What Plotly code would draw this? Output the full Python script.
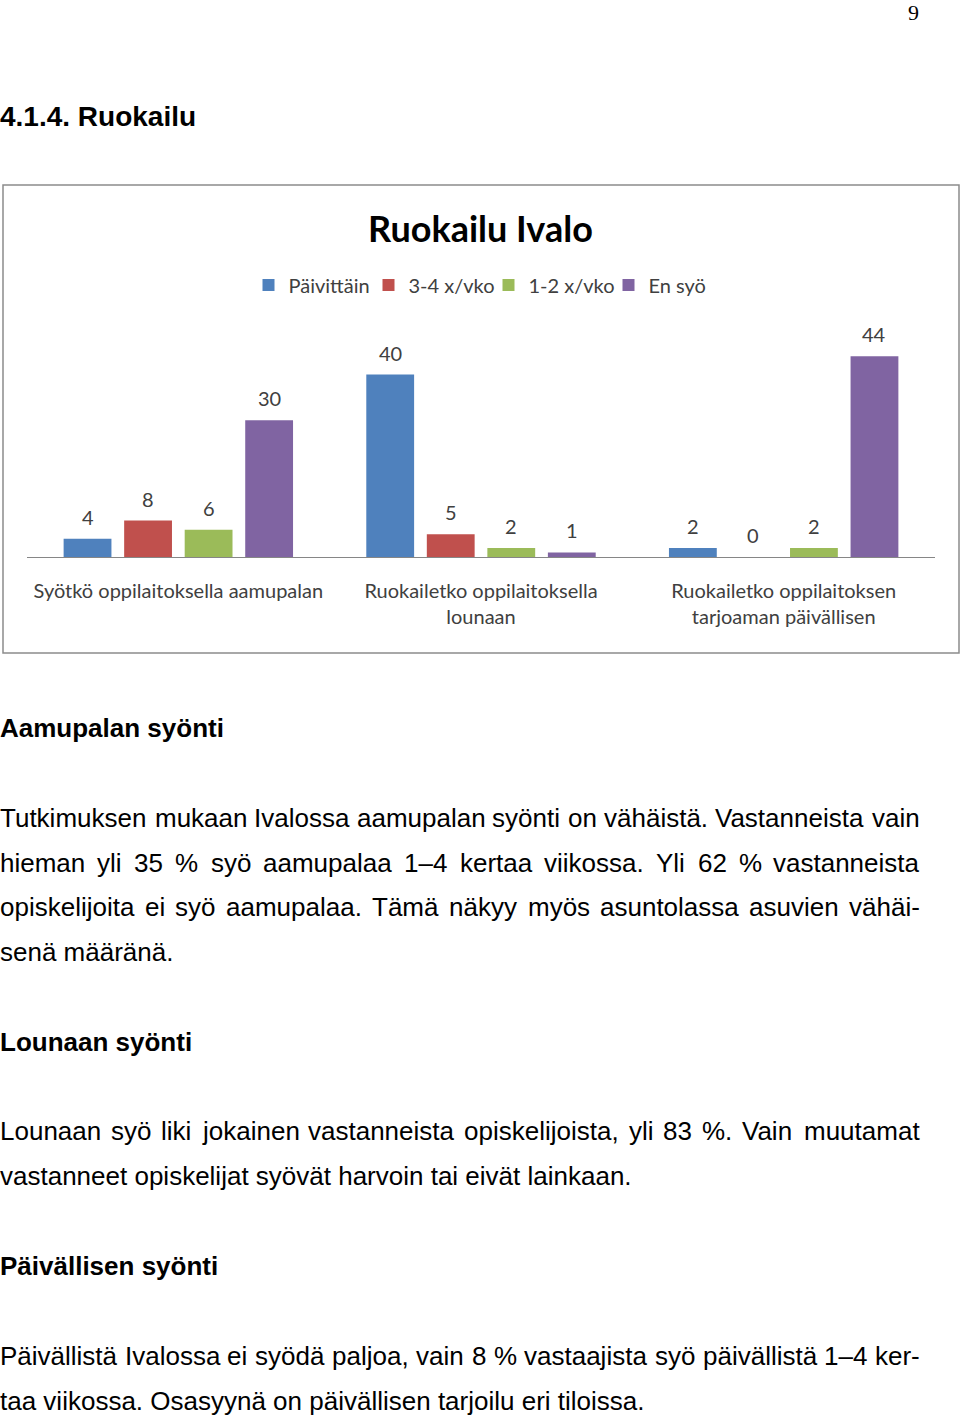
import plotly.graph_objects as go

# chart data
categories = [
    "Syötkö oppilaitoksella aamupalan",
    "Ruokailetko oppilaitoksella<br>lounaan",
    "Ruokailetko oppilaitoksen<br>tarjoaman päivällisen",
]
series_names = ["Päivittäin", "3-4 x/vko", "1-2 x/vko", "En syö"]
paivittain = [4, 40, 2]
kolme_nelja = [8, 5, 0]
yksi_kaksi = [6, 2, 2]
en_syo = [30, 1, 44]
colors = ["#4F81BD", "#C0504D", "#9BBB59", "#8064A2"]

chart_title = "Ruokailu Ivalo"

# surrounding page text
page_number = "9"
section_heading = "4.1.4. Ruokailu"
sections = [
    ("Aamupalan syönti", 728, [
        "Tutkimuksen mukaan Ivalossa aamupalan syönti on vähäistä. Vastanneista vain",
        "hieman yli 35 % syö aamupalaa 1–4 kertaa viikossa. Yli 62 % vastanneista",
        "opiskelijoita ei syö aamupalaa. Tämä näkyy myös asuntolassa asuvien vähäi-",
        "senä määränä.",
    ], 818),
    ("Lounaan syönti", 1042, [
        "Lounaan syö liki jokainen vastanneista opiskelijoista, yli 83 %. Vain muutamat",
        "vastanneet opiskelijat syövät harvoin tai eivät lainkaan.",
    ], 1131),
    ("Päivällisen syönti", 1266, [
        "Päivällistä Ivalossa ei syödä paljoa, vain 8 % vastaajista syö päivällistä 1–4 ker-",
        "taa viikossa. Osasyynä on päivällisen tarjoilu eri tiloissa.",
    ], 1356),
]

W, H = 960, 1417
def py(px):
    return 1 - px / H

chart_font = "Lato, Open Sans, sans-serif"
body_font = "Liberation Sans, Arial, sans-serif"
body_size = 26
text_right = 920

# rough Arial / Liberation Sans advance widths (per 1000 em), for justifying lines
_w = {" ": 278, "%": 889, ",": 278, "-": 333, ".": 278, "–": 556,
      "I": 278, "L": 556, "O": 778, "P": 667, "T": 611, "V": 667, "Y": 667,
      "c": 500, "f": 278, "i": 222, "j": 222, "k": 500, "l": 222, "m": 833,
      "r": 333, "s": 500, "t": 278, "v": 500, "w": 722, "x": 500, "y": 500, "z": 500}
def word_width(s, size):
    return sum(_w.get(ch, 556) for ch in s) * size / 1000

all_series = [paivittain, kolme_nelja, yksi_kaksi, en_syo]

fig = go.Figure()
for name, vals, col in zip(series_names, all_series, colors):
    fig.add_trace(go.Bar(
        x=categories, y=vals, name=name,
        marker=dict(color=col, line=dict(width=0)),
    ))

x0_px, x1_px = 27, 935
bargap, groupgap = 0.2, 0.21
slot = (x1_px - x0_px) / len(categories) * (1 - bargap) / len(series_names)

annotations = []
# value labels above bars
for i, vals in enumerate(all_series):
    for c, v in zip(categories, vals):
        annotations.append(dict(
            x=c, y=v, xref="x", yref="y", text=str(v), showarrow=False,
            xshift=(i - 1.5) * slot, yshift=22, yanchor="middle",
            font=dict(family=chart_font, size=20, color="#404040"),
        ))

def page_text(x, y, text, size, family=body_font, xanchor="left"):
    annotations.append(dict(
        x=x / W, y=py(y), xref="paper", yref="paper", text=text,
        showarrow=False, xanchor=xanchor, yanchor="middle",
        xshift=-2 if xanchor == "left" else (2 if xanchor == "right" else 0),
        font=dict(family=family, size=size, color="#000000"),
    ))

annotations.append(dict(
    x=0.5, y=py(228), xref="paper", yref="paper", text="<b>" + chart_title + "</b>",
    showarrow=False, yanchor="middle",
    font=dict(family=chart_font, size=36, color="#000000"),
))
page_text(913, 13, page_number, 22, family="Liberation Serif, serif", xanchor="center")
page_text(0, 116, "<b>" + section_heading + "</b>", 28)

for head, hy, lines, ly in sections:
    page_text(0, hy, "<b>" + head + "</b>", 26)
    for k, line in enumerate(lines):
        y = ly + k * 44.7
        last = k == len(lines) - 1
        if last:
            page_text(0, y, line, body_size)
            continue
        # justified line: spread words between left edge and text_right
        words = line.split(" ")
        widths = [word_width(wd, body_size) for wd in words]
        gap = (text_right - sum(widths)) / (len(words) - 1)
        x = 0
        for j, wd in enumerate(words):
            if j == len(words) - 1:
                page_text(text_right, y, wd, body_size, xanchor="right")
            else:
                page_text(x, y, wd, body_size)
            x += widths[j] + gap

fig.update_layout(
    width=W, height=H,
    margin=dict(l=0, r=0, t=0, b=0),
    paper_bgcolor="white", plot_bgcolor="white",
    barmode="group", bargap=bargap, bargroupgap=groupgap,
    showlegend=True,
    legend=dict(
        orientation="h", x=488.5 / W, xanchor="center", y=py(285), yanchor="middle",
        font=dict(family=chart_font, size=20, color="#404040"),
        itemwidth=30, traceorder="normal", entrywidth=75,
    ),
    xaxis=dict(
        domain=[x0_px / W, x1_px / W],
        showline=True, linecolor="#868686", linewidth=1,
        showgrid=False, ticks="", ticklabelstandoff=16,
        tickfont=dict(family=chart_font, size=20, color="#404040"),
        fixedrange=True,
    ),
    yaxis=dict(
        domain=[py(557), py(557 - 50 * 4.56)], range=[0, 50],
        visible=False, fixedrange=True,
    ),
    shapes=[dict(
        type="rect", xref="paper", yref="paper",
        x0=3 / W, x1=959 / W, y0=py(653), y1=py(185),
        line=dict(color="#8C8C8C", width=1.5), layer="below",
    )],
    annotations=annotations,
)

fig.write_html("out.html", config={"displayModeBar": False},
               post_script="document.body.style.margin='0';")
